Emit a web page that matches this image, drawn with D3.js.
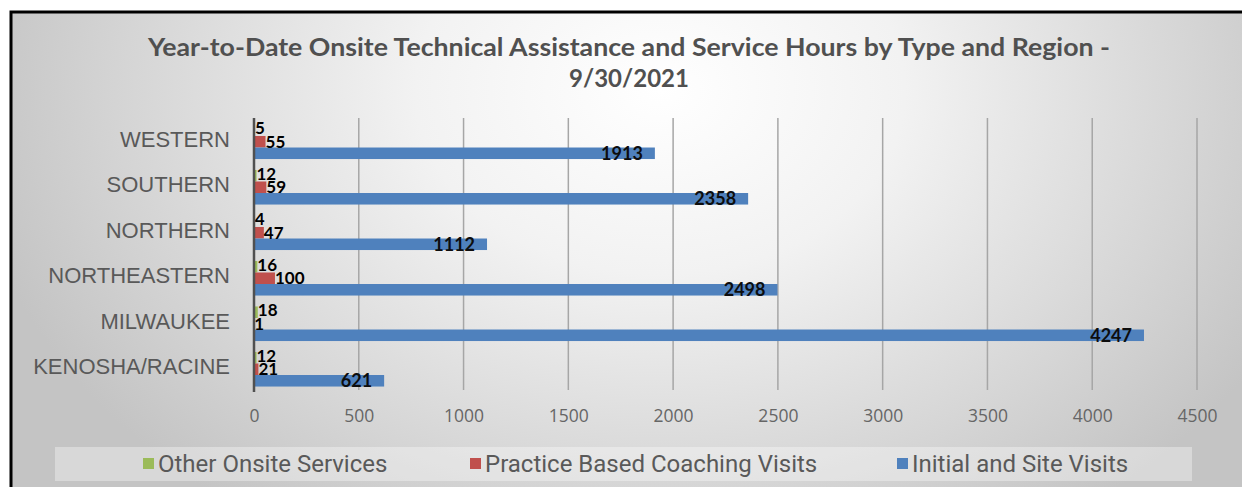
<!DOCTYPE html>
<html><head><meta charset="utf-8">
<script src="https://cdn.jsdelivr.net/npm/d3@7"></script>
<style>html,body{margin:0;padding:0;background:#fff;}svg{display:block;}</style>
</head><body>
<svg id="chart" width="1242" height="487"></svg>
<script>
const categories = ["WESTERN","SOUTHERN","NORTHERN","NORTHEASTERN","MILWAUKEE","KENOSHA/RACINE"];
const otherOnsite = [5, 12, 4, 16, 18, 12];
const practiceCoaching = [55, 59, 47, 100, 1, 21];
const initialSite = [1913, 2358, 1112, 2498, 4247, 621];
const xTicks = [0,500,1000,1500,2000,2500,3000,3500,4000,4500];
const seriesNames = ["Other Onsite Services","Practice Based Coaching Visits","Initial and Site Visits"];
const seriesColors = ["#9bbb59","#c0504d","#4f81bd"];
const titleLines = ["Year-to-Date Onsite Technical Assistance and Service Hours by Type and Region -","9/30/2021"];

const svg = d3.select("#chart");
const defs = svg.append("defs");
const rg = defs.append("radialGradient").attr("id","bg")
  .attr("gradientUnits","userSpaceOnUse")
  .attr("cx",660).attr("cy",90).attr("r",700)
  .attr("gradientTransform","translate(660,90) scale(1,0.75) translate(-660,-90)");
rg.append("stop").attr("offset","0").attr("stop-color","#ffffff");
rg.append("stop").attr("offset","0.35").attr("stop-color","#f2f2f2");
rg.append("stop").attr("offset","0.75").attr("stop-color","#d6d6d6");
rg.append("stop").attr("offset","1").attr("stop-color","#c4c4c4");

svg.append("rect").attr("x",11).attr("y",12).attr("width",1250).attr("height",490)
  .attr("fill","url(#bg)").attr("stroke","#000").attr("stroke-width",3);

// title
const tg = svg.append("g");
titleLines.forEach((t,i)=>{
  tg.append("text").attr("x",629).attr("y",56+i*31).attr("text-anchor","middle")
    .attr("font-family","Lato, 'Open Sans', sans-serif").attr("font-weight","bold")
    .attr("font-size",24).attr("fill","#505050").text(t)
    .attr("textLength", i===0 ? 962 : null).attr("lengthAdjust","spacingAndGlyphs");
});

const x = d3.scaleLinear().domain([0,4500]).range([254,1197]);
const y = d3.scaleBand().domain(categories).range([119,392]).paddingInner(0.24).paddingOuter(0.12);
const ySub = d3.scaleBand().domain([0,1,2]).range([0,y.bandwidth()]);

// gridlines
svg.append("g").selectAll("line").data(xTicks.slice(1)).join("line")
  .attr("x1",d=>x(d)).attr("x2",d=>x(d)).attr("y1",118).attr("y2",390)
  .attr("stroke","#a6a6a6").attr("stroke-width",1.5);

// x axis tick labels via d3 axis
const xAxis = svg.append("g").attr("transform","translate(0,416)")
  .call(d3.axisBottom(x).tickValues(xTicks).tickSize(0).tickFormat(d3.format("d")));
xAxis.select(".domain").remove();
xAxis.selectAll("text").attr("font-family","'Open Sans', sans-serif").attr("font-size",17.5)
  .attr("fill","#666666").attr("dy","0.36em").attr("y",0);

// category axis
const yAxis = svg.append("g").attr("transform","translate(230,3)")
  .call(d3.axisLeft(y).tickSize(0).tickPadding(0));
yAxis.select(".domain").remove();
yAxis.selectAll("text").attr("font-family","'Liberation Sans', Arial, sans-serif")
  .attr("font-size",22).attr("fill","#595959").attr("dy","0.1em").attr("x",0);

const seriesData = [otherOnsite, practiceCoaching, initialSite];
const bars = svg.append("g");
seriesData.forEach((vals,s)=>{
  bars.selectAll(null).data(vals).join("rect")
    .attr("x",x(0)).attr("y",(d,i)=>y(categories[i])+ySub(s))
    .attr("width",d=>x(d)-x(0)).attr("height",ySub.bandwidth())
    .attr("fill",seriesColors[s]);
});

// labels
const lab = svg.append("g").attr("font-family","Lato, 'Open Sans', sans-serif").attr("font-weight","bold").attr("fill","#000");
[0,1].forEach(s=>{
  lab.selectAll(null).data(seriesData[s]).join("text")
    .attr("x",d=>x(d)).attr("y",(d,i)=>y(categories[i])+ySub(s)+ySub.bandwidth()/2 + (s===0?-2:0))
    .attr("dy","0.36em").attr("font-size",17).text(d=>d);
});
lab.selectAll(null).data(initialSite).join("text")
  .attr("x",d=>x(d)-12).attr("y",(d,i)=>y(categories[i])+ySub(2)+ySub.bandwidth()/2)
  .attr("dy","0.36em").attr("text-anchor","end").attr("font-size",18).attr("fill","#0d0d0d").text(d=>d);

// vertical axis line
svg.append("line").attr("x1",254).attr("x2",254).attr("y1",118).attr("y2",392)
  .attr("stroke","#505050").attr("stroke-width",2.5);

// legend
const lg = svg.append("g");
lg.append("rect").attr("x",55).attr("y",447).attr("width",1137).attr("height",34)
  .attr("fill","#ffffff").attr("fill-opacity",0.35);
const legX = [143, 470, 897];
seriesNames.forEach((n,i)=>{
  lg.append("rect").attr("x",legX[i]).attr("y",458).attr("width",11).attr("height",11).attr("fill",seriesColors[i]);
  lg.append("text").attr("x",legX[i]+15).attr("y",464).attr("dy","0.35em")
    .attr("font-family","Roboto, sans-serif").attr("font-size",24).attr("fill","#595959").text(n);
});
</script>
</body></html>
